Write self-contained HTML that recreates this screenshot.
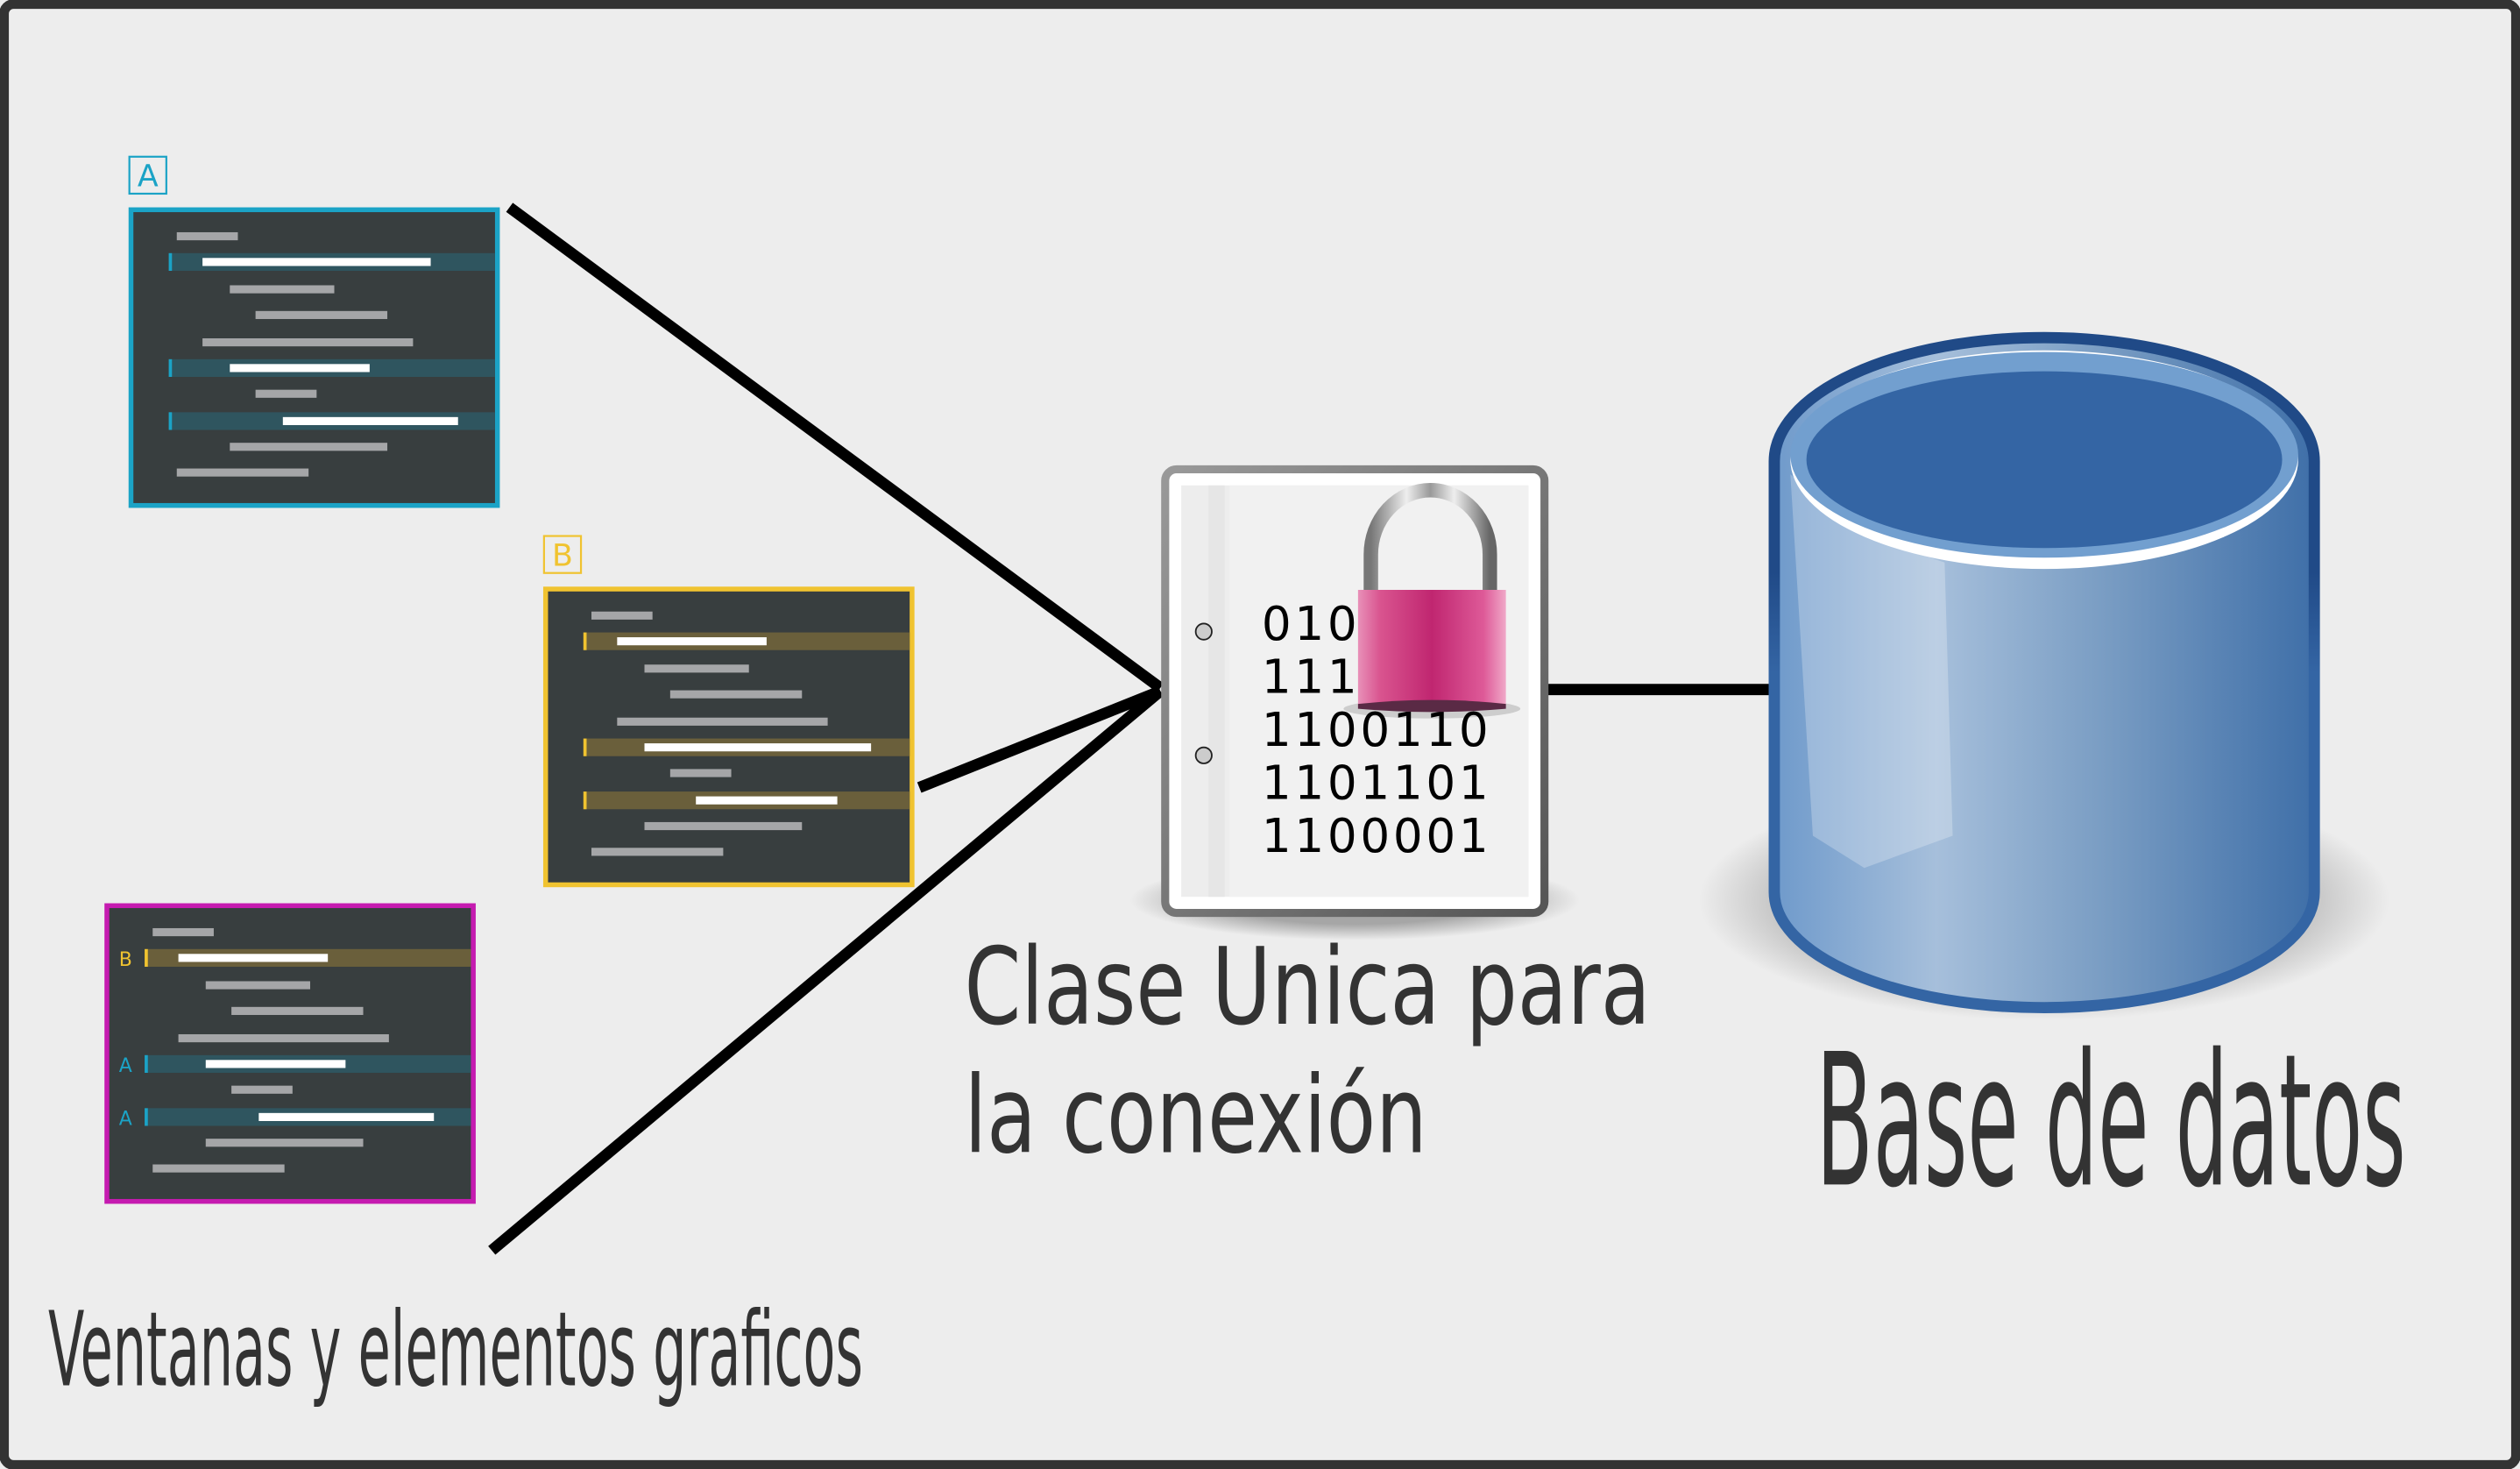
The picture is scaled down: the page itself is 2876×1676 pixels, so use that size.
<!DOCTYPE html>
<html><head><meta charset="utf-8"><style>
html,body{margin:0;padding:0;background:#ededed;}
svg{display:block}
</style></head><body>
<svg width="2876" height="1676" viewBox="0 0 1568 914" preserveAspectRatio="none" xmlns="http://www.w3.org/2000/svg">
<defs>
<linearGradient id="cyl" x1="0" x2="1" y1="0" y2="0">
<stop offset="0" stop-color="#6f9acb"/><stop offset="0.3" stop-color="#a6bfdb"/><stop offset="0.6" stop-color="#7b9ec4"/><stop offset="1" stop-color="#3f6fa8"/>
</linearGradient>
<linearGradient id="edge" x1="0" x2="0" y1="0" y2="1">
<stop offset="0" stop-color="#204a87"/><stop offset="0.35" stop-color="#204a87"/><stop offset="0.5" stop-color="#3465a4"/><stop offset="1" stop-color="#3465a4"/>
</linearGradient>
<radialGradient id="shadow" cx="0.5" cy="0.5" r="0.5">
<stop offset="0.6" stop-color="#000" stop-opacity="0.3"/><stop offset="1" stop-color="#000" stop-opacity="0"/>
</radialGradient>
<linearGradient id="pink" x1="0" x2="1" y1="0" y2="0">
<stop offset="0" stop-color="#e890b8"/><stop offset="0.15" stop-color="#d9548f"/><stop offset="0.5" stop-color="#c02670"/><stop offset="0.85" stop-color="#de5a98"/><stop offset="1" stop-color="#f0a8c8"/>
</linearGradient>
<linearGradient id="shackle" x1="0" x2="1" y1="0" y2="0">
<stop offset="0" stop-color="#777"/><stop offset="0.3" stop-color="#eee"/><stop offset="0.5" stop-color="#999"/><stop offset="0.7" stop-color="#eee"/><stop offset="1" stop-color="#666"/>
</linearGradient>
<linearGradient id="docb" x1="0" x2="1" y1="0" y2="1">
<stop offset="0" stop-color="#999"/><stop offset="1" stop-color="#555"/>
</linearGradient>
<g id="lines">
<rect x="30" y="15.5" width="38" height="5" fill="#a5a6a8"/>
<rect x="63" y="48.5" width="65" height="5" fill="#a5a6a8"/>
<rect x="79" y="64.5" width="82" height="5" fill="#a5a6a8"/>
<rect x="46" y="81.5" width="131" height="5" fill="#a5a6a8"/>
<rect x="79" y="113.5" width="38" height="5" fill="#a5a6a8"/>
<rect x="63" y="146.5" width="98" height="5" fill="#a5a6a8"/>
<rect x="30" y="162.5" width="82" height="5" fill="#a5a6a8"/>
</g>
</defs>
<rect x="2.5" y="2.5" width="1563" height="909" rx="6" fill="#ededed" stroke="#333" stroke-width="6"/>

<!-- Window A -->
<g transform="translate(80,129)">
<rect x="1.5" y="1.5" width="228" height="184" fill="#383e3f" stroke="#1ba3c6" stroke-width="3"/>
<rect x="25" y="28.5" width="203" height="11" fill="#2f555f"/><rect x="25" y="28.5" width="2" height="11" fill="#1ba3c6"/><rect x="46" y="31.5" width="142" height="5" fill="#fff"/>
<rect x="25" y="94.5" width="203" height="11" fill="#2f555f"/><rect x="25" y="94.5" width="2" height="11" fill="#1ba3c6"/><rect x="63" y="97.5" width="87" height="5" fill="#fff"/>
<rect x="25" y="127.5" width="203" height="11" fill="#2f555f"/><rect x="25" y="127.5" width="2" height="11" fill="#1ba3c6"/><rect x="96" y="130.5" width="109" height="5" fill="#fff"/>
<use href="#lines"/>
</g>
<rect x="80.5" y="97.5" width="23" height="23" fill="none" stroke="#1ba3c6" stroke-width="1.2"/>
<text x="92" y="116" font-family="DejaVu Sans, Liberation Sans, sans-serif" font-size="19" fill="#1ba3c6" text-anchor="middle">A</text>

<!-- Window B -->
<g transform="translate(338,365)">
<rect x="1.5" y="1.5" width="228" height="184" fill="#383e3f" stroke="#f0c330" stroke-width="3"/>
<rect x="25" y="28.5" width="203" height="11" fill="#6a5f3b"/><rect x="25" y="28.5" width="2" height="11" fill="#f0c330"/><rect x="46" y="31.5" width="93" height="5" fill="#fff"/>
<rect x="25" y="94.5" width="203" height="11" fill="#6a5f3b"/><rect x="25" y="94.5" width="2" height="11" fill="#f0c330"/><rect x="63" y="97.5" width="141" height="5" fill="#fff"/>
<rect x="25" y="127.5" width="203" height="11" fill="#6a5f3b"/><rect x="25" y="127.5" width="2" height="11" fill="#f0c330"/><rect x="95" y="130.5" width="88" height="5" fill="#fff"/>
<use href="#lines"/>
</g>
<rect x="338.5" y="333.5" width="23" height="23" fill="none" stroke="#f0c330" stroke-width="1.2"/>
<text x="350" y="352" font-family="DejaVu Sans, Liberation Sans, sans-serif" font-size="19" fill="#f0c330" text-anchor="middle">B</text>

<!-- Window C -->
<g transform="translate(65,562)">
<rect x="1.5" y="1.5" width="228" height="184" fill="#383e3f" stroke="#c51bb0" stroke-width="3"/>
<rect x="25" y="28.5" width="203" height="11" fill="#6a5f3b"/><rect x="25" y="28.5" width="2" height="11" fill="#f0c330"/><rect x="46" y="31.5" width="93" height="5" fill="#fff"/>
<rect x="25" y="94.5" width="203" height="11" fill="#2f555f"/><rect x="25" y="94.5" width="2" height="11" fill="#1ba3c6"/><rect x="63" y="97.5" width="87" height="5" fill="#fff"/>
<rect x="25" y="127.5" width="203" height="11" fill="#2f555f"/><rect x="25" y="127.5" width="2" height="11" fill="#1ba3c6"/><rect x="96" y="130.5" width="109" height="5" fill="#fff"/>
<use href="#lines"/>
<text x="9" y="39" font-family="DejaVu Sans, sans-serif" font-size="12" fill="#f0c330">B</text>
<text x="9" y="105" font-family="DejaVu Sans, sans-serif" font-size="12" fill="#1ba3c6">A</text>
<text x="9" y="138" font-family="DejaVu Sans, sans-serif" font-size="12" fill="#1ba3c6">A</text>
</g>

<!-- connectors -->
<g stroke="#000" stroke-width="7" fill="none">
<line x1="317" y1="129" x2="722" y2="428"/>
<line x1="572" y1="490" x2="722" y2="430"/>
<line x1="306" y1="778" x2="722" y2="430"/>
<line x1="960" y1="429" x2="1104" y2="429"/>
</g>

<!-- document -->
<ellipse cx="843" cy="560" rx="140" ry="25" fill="url(#shadow)"/>
<rect x="725" y="292" width="236" height="276" rx="7" fill="#fff" stroke="url(#docb)" stroke-width="5"/>
<rect x="735" y="302" width="216" height="256" fill="#ededed"/>
<rect x="765" y="302" width="186" height="256" fill="#f1f1f1"/>
<rect x="752" y="302" width="10" height="256" fill="#e6e6e6"/>
<circle cx="749" cy="393" r="5" fill="#ccc" stroke="#222" stroke-width="1"/>
<circle cx="749" cy="470" r="5" fill="#ccc" stroke="#222" stroke-width="1"/>
<g font-family="DejaVu Sans, Liberation Sans, sans-serif" font-size="29" fill="#000" letter-spacing="2">
<text x="785" y="398">010</text>
<text x="785" y="431">111</text>
<text x="785" y="464">1100110</text>
<text x="785" y="497">1101101</text>
<text x="785" y="530">1100001</text>
</g>
<!-- padlock -->
<path d="M853,370 L853,345 A37,40 0 0 1 927,345 L927,370" fill="none" stroke="url(#shackle)" stroke-width="9"/>
<ellipse cx="891" cy="441" rx="55" ry="6" fill="#000" opacity="0.15"/>
<path d="M845,367 L937,367 L937,440 Q891,435 845,441 Z" fill="url(#pink)"/>
<path d="M845,438 Q891,433 937,438 L937,441 Q891,445 845,441 Z" fill="#5a2a45"/>

<!-- database -->
<ellipse cx="1272" cy="560" rx="215" ry="75" fill="url(#shadow)"/>
<path d="M1104,287 A168,77 0 0 1 1440,287 L1440,555 A168,72 0 0 1 1104,555 Z" fill="url(#cyl)" stroke="url(#edge)" stroke-width="7"/>
<path d="M1114,295 Q1150,330 1210,350 L1215,520 L1160,540 L1128,520 Z" fill="#fff" opacity="0.25"/>
<ellipse cx="1272" cy="286" rx="158" ry="68" fill="#ffffff"/>
<ellipse cx="1272" cy="283" rx="158" ry="64" fill="#729fcf"/>
<ellipse cx="1272" cy="286" rx="148" ry="55" fill="#3465a4"/>

<!-- labels -->
<g font-family="DejaVu Sans, Liberation Sans, sans-serif" fill="#333">
<text x="600" y="637" font-size="66" textLength="427" lengthAdjust="spacingAndGlyphs">Clase Unica para</text>
<text x="600" y="717" font-size="66" textLength="288" lengthAdjust="spacingAndGlyphs">la conexión</text>
<text x="1130" y="737" font-size="114" textLength="367" lengthAdjust="spacingAndGlyphs">Base de datos</text>
<text x="30" y="862" font-size="64" textLength="507" lengthAdjust="spacingAndGlyphs">Ventanas y elementos graficos</text>
</g>
</svg>
</body></html>
